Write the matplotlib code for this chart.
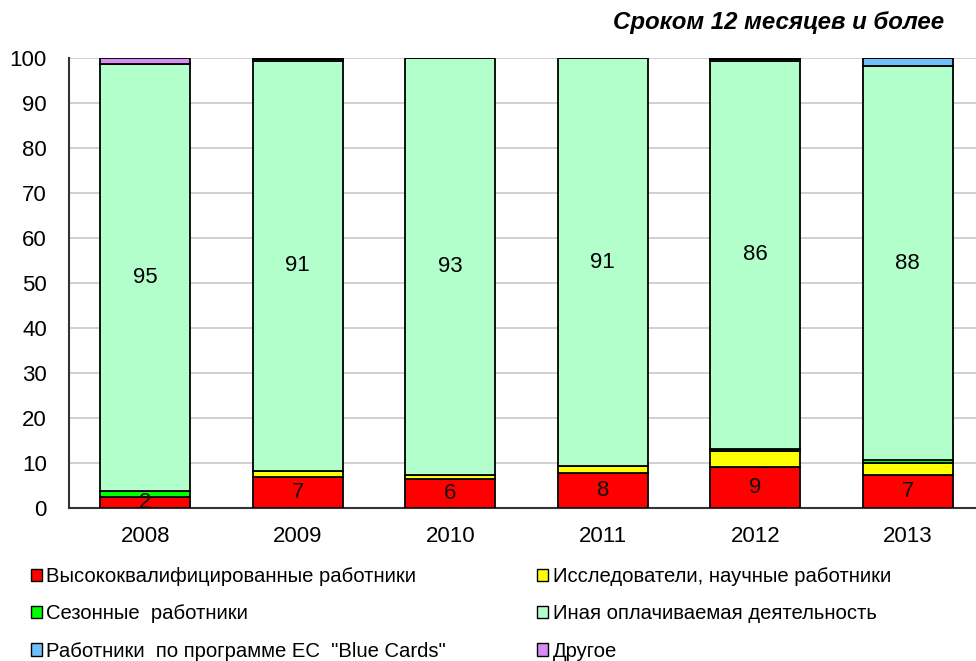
import matplotlib
matplotlib.use("Agg")
from matplotlib import pyplot as plt
from matplotlib.patches import Patch
import numpy as np

plt.rcParams['font.family'] = ['Liberation Sans', 'DejaVu Sans']

years = ['2008', '2009', '2010', '2011', '2012', '2013']
high_skill = [2.4, 6.9, 6.4, 7.8, 9.1, 7.3]
research = [0.0, 1.3, 1.0, 1.5, 3.6, 2.7]
seasonal = [1.3, 0.1, 0.0, 0.0, 0.5, 0.6]
other_paid = [94.9, 91.1, 92.6, 90.7, 86.1, 87.6]
blue_cards = [0.0, 0.3, 0.0, 0.0, 0.4, 1.8]
other = [1.4, 0.3, 0.0, 0.0, 0.3, 0.0]

high_labels = ['2', '7', '6', '8', '9', '7']
paid_labels = ['95', '91', '93', '91', '86', '88']

series = [
    ("Высококвалифицированные работники", high_skill, "#FF0000"),
    ("Исследователи, научные работники", research, "#FFFF00"),
    ("Сезонные  работники", seasonal, "#00FF00"),
    ("Иная оплачиваемая деятельность", other_paid, "#B3FFCC"),
    ('Работники  по программе ЕС  "Blue Cards"', blue_cards, "#6EC0F8"),
    ("Другое", other, "#D98CF5"),
]

fig = plt.figure(figsize=(9.76, 6.61), dpi=100)
ax = fig.add_axes([69/976, (661-508)/661, (984-69)/976, 450/661])

x = np.arange(len(years))
bottom = np.zeros(len(years))
for name, vals, col in series:
    ax.bar(x, vals, 0.59, bottom=bottom, color=col, edgecolor='black',
           linewidth=1.3, zorder=3)
    bottom += np.array(vals)

for i in range(len(years)):
    ax.text(x[i], high_skill[i] / 2, high_labels[i], ha='center', va='center',
            fontsize=16, color='#111111', zorder=4)
    base = high_skill[i] + research[i] + seasonal[i]
    ax.text(x[i], base + other_paid[i] / 2, paid_labels[i], ha='center',
            va='center', fontsize=16, color='black', zorder=4)

ax.set_xlim(-0.5, 5.5)
ax.set_ylim(0, 100)
ax.set_yticks(range(0, 101, 10))
ax.set_xticks(x)
ax.set_xticklabels(years)
ax.tick_params(axis='both', length=0, labelsize=16)
ax.tick_params(axis='y', pad=16)
ax.tick_params(axis='x', pad=13)
ax.yaxis.grid(True, color='#C8C8C8', linewidth=1.2, zorder=0)
ax.set_axisbelow(True)
for s in ['top', 'right']:
    ax.spines[s].set_visible(False)
for s in ['left', 'bottom']:
    ax.spines[s].set_color('#333333')
    ax.spines[s].set_linewidth(1.5)

fig.text(944/976, 1 - 22/661, "Сроком 12 месяцев и более", ha='right',
         va='center', fontsize=17.3, fontweight='bold', fontstyle='italic')

order = [0, 2, 4, 1, 3, 5]
handles = [Patch(facecolor=series[k][2], edgecolor='black', linewidth=1.0)
           for k in order]
labels = [series[k][0] for k in order]
fig.legend(handles, labels, ncol=2, loc='upper left',
           bbox_to_anchor=(23/976, 1 - 559/661), frameon=False,
           fontsize=14.6, handlelength=0.55, handleheight=0.55, handletextpad=0.2,
           columnspacing=4.5, labelspacing=0.9, borderaxespad=0)

fig.savefig("out.png", dpi=100)
